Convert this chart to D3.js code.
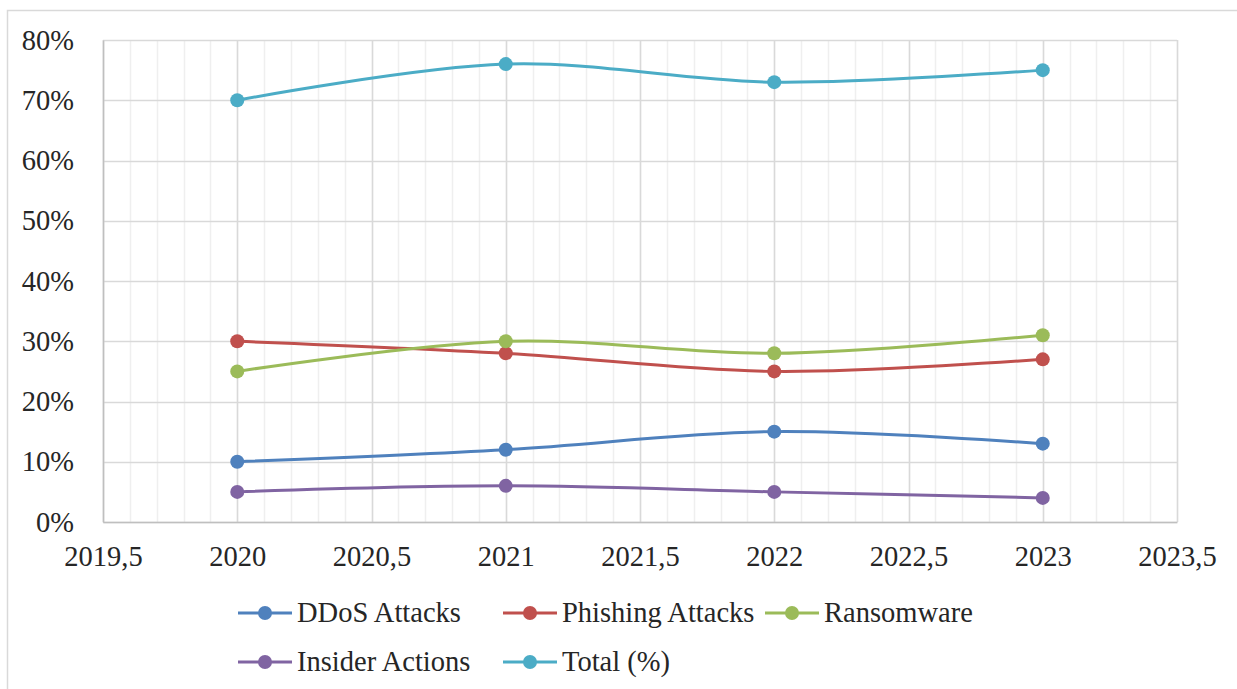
<!DOCTYPE html>
<html>
<head>
<meta charset="utf-8">
<script src="https://cdn.jsdelivr.net/npm/d3@7"></script>
<style>
  body { margin: 0; background: #fff; }
</style>
</head>
<body>
<script>
(function() {

  var years      = [2020, 2021, 2022, 2023],
      ddos       = [0.10, 0.12, 0.15, 0.13],
      phishing   = [0.30, 0.28, 0.25, 0.27],
      ransomware = [0.25, 0.30, 0.28, 0.31],
      insider    = [0.05, 0.06, 0.05, 0.04],
      total      = [0.70, 0.76, 0.73, 0.75],
      seriesNames  = ["DDoS Attacks", "Phishing Attacks", "Ransomware", "Insider Actions", "Total (%)"],
      seriesColors = ["#4f81bd", "#c0504d", "#9bbb59", "#8064a2", "#4bacc6"],
      xTicks = [2019.5, 2020, 2020.5, 2021, 2021.5, 2022, 2022.5, 2023, 2023.5],
      yTicks = [0, 0.1, 0.2, 0.3, 0.4, 0.5, 0.6, 0.7, 0.8];

  var width = 1237, height = 689,
      left = 103, right = 1177, top = 40, bottom = 522,
      font = "\"Liberation Serif\"",
      ink = "#262626";

  var series = [ddos, phishing, ransomware, insider, total].map(function(v, i) {
    return { name: seriesNames[i], color: seriesColors[i],
             values: v.map(function(d, j) { return [years[j], d]; }) };
  });

  var x = d3.scaleLinear().domain([2019.5, 2023.5]).range([left, right]),
      y = d3.scaleLinear().domain([0, 0.8]).range([bottom, top]);

  var svg = d3.select("body").append("svg")
      .attr("width", width).attr("height", height);

  // chart frame
  svg.append("rect")
    .attr("x", 7.5).attr("y", 10.5)
    .attr("width", width + 10).attr("height", height + 10)
    .attr("fill", "none").attr("stroke", "#d9d9d9").attr("stroke-width", 1.5);

  // minor vertical grid (0.1 step)
  var minor = d3.range(0, 41).map(function(i) { return 2019.5 + i * 0.1; });
  svg.append("g").selectAll("line").data(minor).enter().append("line")
    .attr("x1", function(d) { return Math.round(x(d)) + 0.5; })
    .attr("x2", function(d) { return Math.round(x(d)) + 0.5; })
    .attr("y1", top).attr("y2", bottom)
    .attr("stroke", "#efefef").attr("stroke-width", 1.5);

  // major vertical grid
  svg.append("g").selectAll("line").data(xTicks).enter().append("line")
    .attr("x1", function(d) { return Math.round(x(d)) + 0.5; })
    .attr("x2", function(d) { return Math.round(x(d)) + 0.5; })
    .attr("y1", top).attr("y2", bottom)
    .attr("stroke", "#d9d9d9").attr("stroke-width", 1.5);

  // horizontal grid
  svg.append("g").selectAll("line").data(yTicks).enter().append("line")
    .attr("x1", left).attr("x2", right)
    .attr("y1", function(d) { return Math.round(y(d)) + 0.5; })
    .attr("y2", function(d) { return Math.round(y(d)) + 0.5; })
    .attr("stroke", "#d9d9d9").attr("stroke-width", 1.5);

  // axes
  var yAxis = d3.axisLeft(y).tickValues(yTicks).tickSize(0).tickPadding(29)
      .tickFormat(d3.format(".0%"));
  var gy = svg.append("g").attr("transform", "translate(" + left + ",0)").call(yAxis);
  gy.select(".domain").attr("stroke", "#bfbfbf").attr("stroke-width", 1.5);
  gy.selectAll("text").style("font-family", font).style("font-size", "28.5px")
    .attr("fill", ink).attr("dy", 9);

  var xAxis = d3.axisBottom(x).tickValues(xTicks).tickSize(0)
      .tickFormat(function(d) { return String(d).replace(".", ","); });
  var gx = svg.append("g").attr("transform", "translate(0," + bottom + ")").call(xAxis);
  gx.select(".domain").attr("stroke", "#bfbfbf").attr("stroke-width", 1.5);
  gx.selectAll("text").style("font-family", font).style("font-size", "28.5px")
    .attr("fill", ink).attr("y", 44).attr("dy", 0);

  // lines
  var line = d3.line()
      .x(function(d) { return x(d[0]); })
      .y(function(d) { return y(d[1]); })
      .curve(d3.curveCatmullRom.alpha(0.5));

  var g = svg.append("g").selectAll("g").data(series).enter().append("g");
  g.append("path")
    .attr("d", function(d) { return line(d.values); })
    .attr("fill", "none")
    .attr("stroke", function(d) { return d.color; })
    .attr("stroke-width", 3);
  g.selectAll("circle").data(function(d) { return d.values.map(function(v) { return [v, d.color]; }); })
    .enter().append("circle")
    .attr("cx", function(d) { return x(d[0][0]); })
    .attr("cy", function(d) { return y(d[0][1]); })
    .attr("r", 7)
    .attr("fill", function(d) { return d[1]; });

  // legend
  var legendPos = [[238, 613], [503, 613], [765, 613], [238, 662], [503, 662]];
  var lg = svg.append("g").selectAll("g").data(series).enter().append("g")
    .attr("transform", function(d, i) { return "translate(" + legendPos[i][0] + "," + legendPos[i][1] + ")"; });
  lg.append("line").attr("x1", 0).attr("x2", 54).attr("y1", 0).attr("y2", 0)
    .attr("stroke", function(d) { return d.color; }).attr("stroke-width", 3);
  lg.append("circle").attr("cx", 27).attr("cy", 0).attr("r", 7)
    .attr("fill", function(d) { return d.color; });
  lg.append("text").attr("x", 59).attr("y", 0).attr("dy", 9)
    .style("font-family", font).style("font-size", "28.5px").attr("fill", ink)
    .text(function(d) { return d.name; });

}());
</script>
</body>
</html>
